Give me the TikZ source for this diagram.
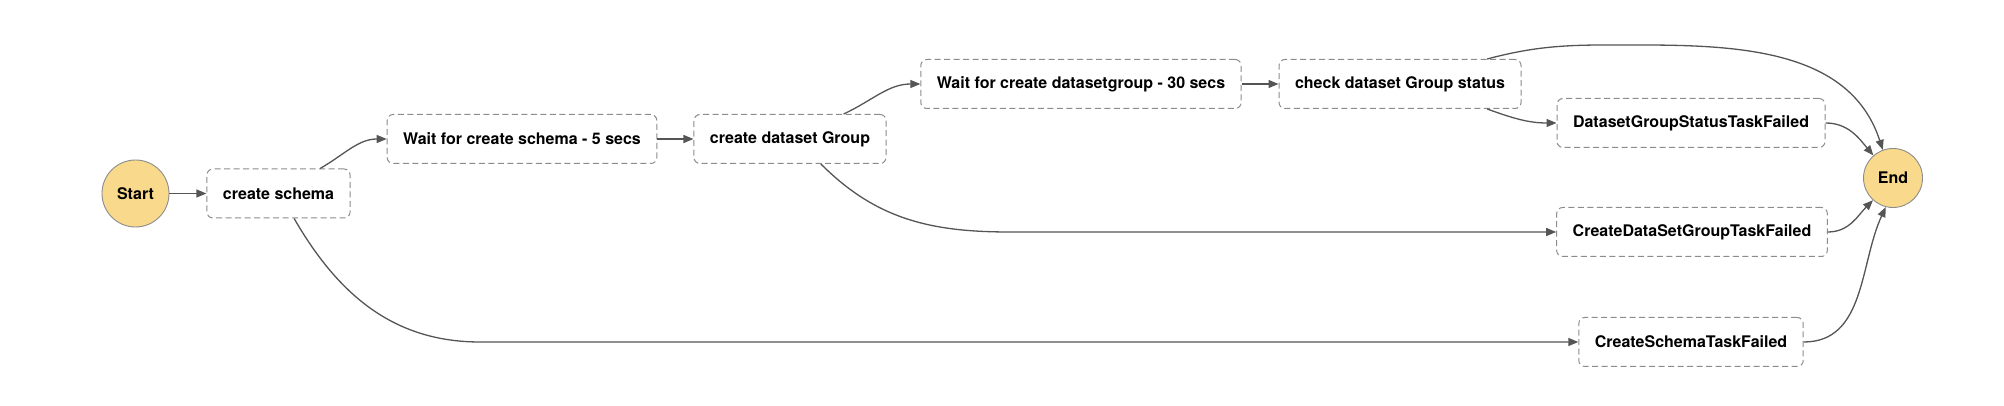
\documentclass[tikz,border=0pt]{standalone}
\usepackage{fontspec}
\setmainfont{TeX Gyre Heros}
\usetikzlibrary{arrows.meta}
\definecolor{stepline}{HTML}{8C8C8C}
\definecolor{flowline}{HTML}{555555}
\definecolor{endfill}{HTML}{F9D98B}

\begin{document}
\begin{tikzpicture}[x=1pt,y=1pt,
		font=\fontsize{16}{19}\selectfont\bfseries,
		task/.style={draw=stepline, dash pattern=on 6pt off 3.5pt, line width=1pt, rounded corners=6pt, fill=white, minimum height=49pt, inner xsep=16pt},
		term/.style={circle, draw=stepline, line width=0.9pt, fill=endfill, inner sep=0pt},
		flow/.style={draw=flowline, line width=1.3pt, -{Triangle[length=10pt,width=8pt]}}]
		\useasboundingbox (0,0) rectangle (2004,406);
		\node[term, minimum size=67pt](start) at (135.5,212.5) {Start};
		\node[task](cs) at (278.5,212.5) {create schema};
		\node[task](wschema) at (522,267) {Wait for create schema - 5 secs};
		\node[task](cdg) at (790,267) {create dataset Group};
		\node[task](wgroup) at (1081,322) {Wait for create datasetgroup - 30 secs};
		\node[task](chk) at (1400,322) {check dataset Group status};
		\node[task](dgsf) at (1691,283) {DatasetGroupStatusTaskFailed};
		\node[task](cdgf) at (1692,174) {CreateDataSetGroupTaskFailed};
		\node[task](csf) at (1691,64) {CreateSchemaTaskFailed};
		\node[term, minimum size=59pt](end) at (1893,228) {End};
		\coordinate (topbend) at (1640,361);
		\coordinate (groupbend) at (1010,174);
		\coordinate (schemabend) at (480,64);
		\draw [flow] (start) -- (cs);
		\draw [flow] (cs.31) to[out=30,in=180] (wschema.west);
		\draw [flow] (wschema) -- (cdg);
		\draw [flow] (cdg.25) to[out=25,in=180] (wgroup.west);
		\draw [flow] (wgroup) -- (chk);
		\draw [flow] (chk.16) to[out=15,in=180] (topbend) to[out=0,in=108] (end.110);
		\draw [flow] (chk.-16) to[out=-20,in=180] (dgsf.west);
		\draw [flow] (cdg.-39) to[out=-45,in=180] (groupbend) -- (cdgf.west);
		\draw [flow] (cs.-58) to[out=-60,in=180] (schemabend) -- (csf.west);
		\draw [flow] (dgsf.east) to[out=0,in=130] (end.131);
		\draw [flow] (cdgf.east) to[out=0,in=225] (end.228);
		\draw [flow] (csf.east) to[out=0,in=245] (end.256);
	\end{tikzpicture}
\end{document}
